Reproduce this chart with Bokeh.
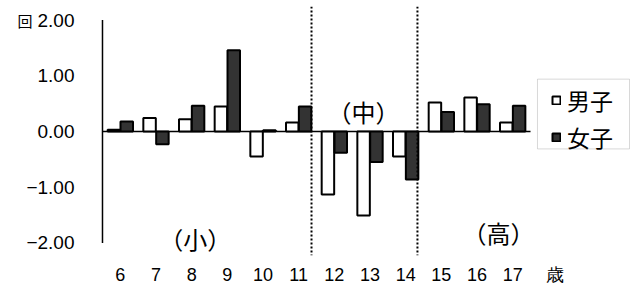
from bokeh.plotting import figure
from bokeh.models import (Range1d, FixedTicker, Span, Label, Legend, LegendItem,
                          ColumnDataSource, LinearAxis, BoxAnnotation)
from bokeh.transform import dodge
from bokeh.embed import file_html
from bokeh.resources import INLINE

# ---- data ----
ages = [6, 7, 8, 9, 10, 11, 12, 13, 14, 15, 16, 17]
boys = [0.03, 0.24, 0.22, 0.45, -0.45, 0.16, -1.13, -1.51, -0.45, 0.52, 0.61, 0.16]
girls = [0.18, -0.23, 0.46, 1.46, 0.02, 0.45, -0.38, -0.55, -0.86, 0.35, 0.49, 0.46]
series_names = ["男子", "女子"]
y_ticks = [-2, -1, 0, 1, 2]
y_tick_labels = ["−2.00", "−1.00", "0.00", "1.00", "2.00"]
group_labels = ["（小）", "（中）", "（高）"]
unit_y = "回"
unit_x = "歳"

CJK = "Noto Sans CJK JP"
NUM = "Liberation Sans"

src = ColumnDataSource(dict(age=ages, boys=boys, girls=girls))

p = figure(width=635, height=287, output_backend="svg", toolbar_location=None,
           x_range=Range1d(5.304, 20.443), y_range=Range1d(-2.226, 2.243),
           min_border_left=95, min_border_right=0, min_border_top=6, min_border_bottom=24)
p.outline_line_color = None
p.xgrid.visible = False
p.ygrid.visible = False
p.background_fill_color = "white"

# x axis: ages, plus the unit label after the last age
unit_x_pos = 18.2
p.xaxis.ticker = FixedTicker(ticks=ages + [unit_x_pos])
p.xaxis.major_label_overrides = {unit_x_pos: unit_x}
p.xaxis.axis_line_color = None
p.xaxis.major_tick_line_color = None
p.xaxis.minor_tick_line_color = None
p.xaxis.major_label_text_font = NUM
p.xaxis.major_label_text_font_size = "18px"
p.xaxis.major_label_text_color = "black"
p.xaxis.major_label_standoff = 3

p.yaxis.ticker = FixedTicker(ticks=y_ticks)
p.yaxis.major_label_overrides = {t: s for t, s in zip(y_ticks, y_tick_labels)}
p.yaxis.axis_line_color = None
p.yaxis.major_tick_line_color = None
p.yaxis.minor_tick_line_color = None
p.yaxis.major_label_text_font = NUM
p.yaxis.major_label_text_font_size = "19px"
p.yaxis.major_label_text_color = "black"
p.yaxis.major_label_standoff = 15

# unit axis ("回") beside the top tick
unit_axis = LinearAxis(ticker=FixedTicker(ticks=[max(y_ticks)]),
                       major_label_overrides={max(y_ticks): unit_y},
                       axis_line_color=None, major_tick_line_color=None,
                       minor_tick_line_color=None, major_label_standoff=-15,
                       major_label_text_font=CJK, major_label_text_font_size="15px",
                       major_label_text_color="black",
                       axis_label="\u00a0", axis_label_standoff=0,
                       axis_label_text_font=NUM, axis_label_text_font_size="8px")
p.add_layout(unit_axis, "left")

# own axis line and zero line
p.segment(x0=[5.5], y0=[min(y_ticks)], x1=[5.5], y1=[max(y_ticks)], line_color="black", line_width=1.5)
p.segment(x0=[ages[0] - 0.5], y0=[0], x1=[ages[-1] + 0.5], y1=[0], line_color="black", line_width=1.5)

rb = p.vbar(x=dodge("age", -0.18), top="boys", bottom=0, width=0.35, source=src,
            fill_color="white", line_color="black", line_width=2)
rg = p.vbar(x=dodge("age", 0.18), top="girls", bottom=0, width=0.35, source=src,
            fill_color="#333333", line_color="black", line_width=2)

# dotted separators
for loc in (11.36, 14.33):
    p.add_layout(Span(location=loc, dimension="height", line_color="black",
                      line_width=2, line_dash="2 2"))

# group labels
for (x, y), t in zip([(8.1, -1.92), (12.82, 0.36), (16.6, -1.81)], group_labels):
    p.add_layout(Label(x=x, y=y, text=t, text_align="center", text_baseline="middle",
                       text_font=CJK, text_font_size="24px", text_color="black"))

# legend frame
p.add_layout(BoxAnnotation(left=17.695, right=20.275, top=0.939, bottom=-0.313,
                           fill_color="white", fill_alpha=1,
                           line_color="#7f7f7f", line_width=1, level="annotation"))

legend = Legend(items=[LegendItem(label=series_names[0], renderers=[rb]),
                       LegendItem(label=series_names[1], renderers=[rg])],
                location=(456, 101), orientation="vertical",
                glyph_width=10, glyph_height=10, label_standoff=6,
                padding=0, spacing=3, margin=0,
                label_text_font=NUM + ", " + CJK, label_text_font_size="23px",
                label_text_color="black",
                border_line_color=None, background_fill_alpha=0)
p.add_layout(legend)

open("out.html", "w").write(file_html(p, INLINE))
